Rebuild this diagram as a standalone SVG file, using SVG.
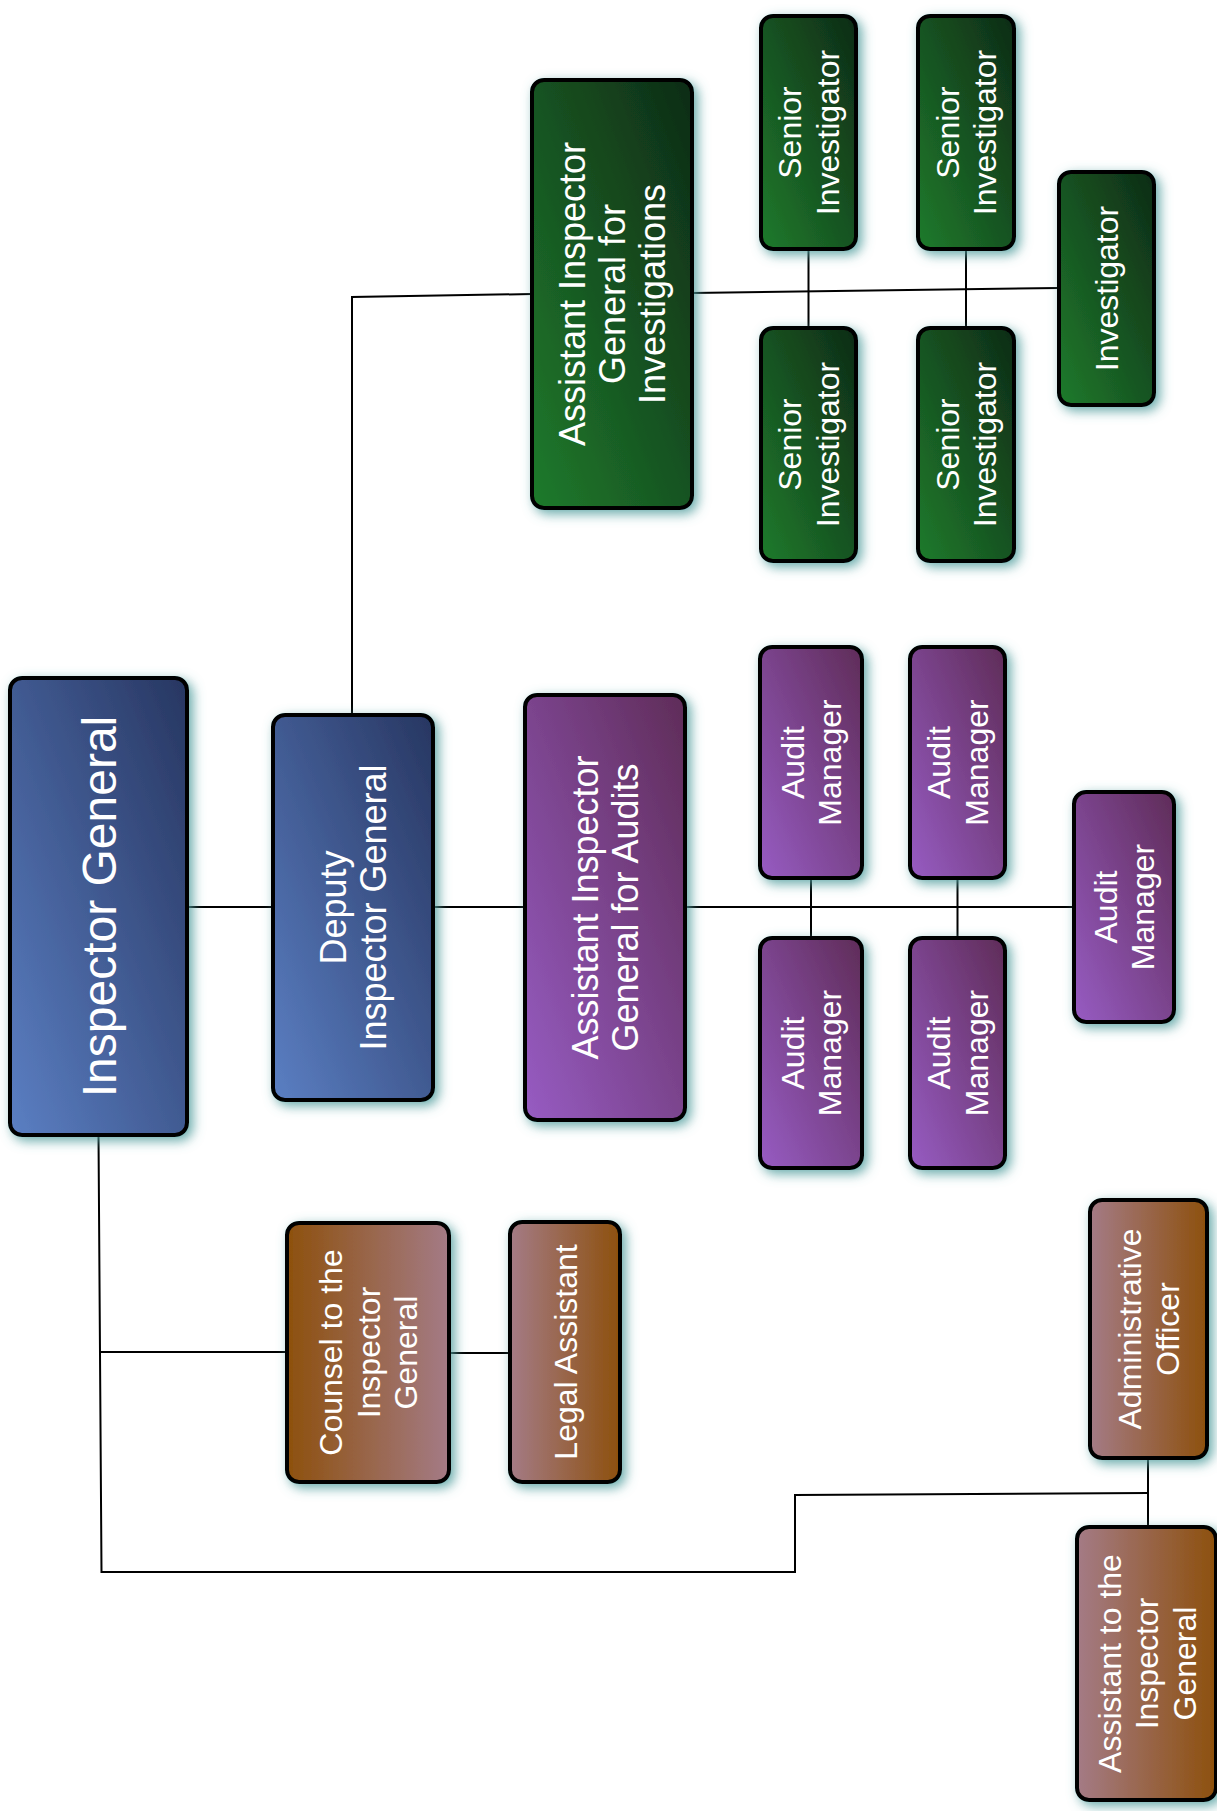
<svg xmlns="http://www.w3.org/2000/svg" width="1217" height="1811" viewBox="0 0 1217 1811">
<style>
.box{stroke:#000;stroke-width:4;filter:url(#glow)}
.blue{fill:url(#gBlue)}
.green{fill:url(#gGreen)}
.purple{fill:url(#gPurple)}
.brownR{fill:url(#gBrownR)}
.brownL{fill:url(#gBrownL)}
text{font-family:"Liberation Sans",Arial,Helvetica,sans-serif;fill:#fff;text-anchor:middle}
.f48{font-size:48px}
.f36{font-size:36px}
.f32{font-size:32px}
.conn{fill:none;stroke:#000;stroke-width:2}
</style>
<defs>
<linearGradient id="gBlue" x1="0" y1="1" x2="1" y2="0"><stop offset="0" stop-color="#5b7fc3"/><stop offset="1" stop-color="#273661"/></linearGradient>
<linearGradient id="gGreen" x1="0" y1="1" x2="1" y2="0"><stop offset="0" stop-color="#1f7b2c"/><stop offset="1" stop-color="#0e2b16"/></linearGradient>
<linearGradient id="gPurple" x1="0" y1="1" x2="1" y2="0"><stop offset="0" stop-color="#975cc3"/><stop offset="1" stop-color="#5f2c58"/></linearGradient>
<linearGradient id="gBrownR" x1="0" y1="0" x2="1" y2="0"><stop offset="0" stop-color="#8d500d"/><stop offset="1" stop-color="#a47b86"/></linearGradient>
<linearGradient id="gBrownL" x1="0" y1="0" x2="1" y2="0"><stop offset="0" stop-color="#a47b86"/><stop offset="1" stop-color="#8d500d"/></linearGradient>
<filter id="glow" x="-30%" y="-30%" width="160%" height="160%">
<feGaussianBlur in="SourceAlpha" stdDeviation="6" result="b"/>
<feOffset in="b" dx="4" dy="4" result="o"/>
<feFlood flood-color="#4e9c9c" flood-opacity="0.85"/>
<feComposite in2="o" operator="in" result="s"/>
<feMerge><feMergeNode in="s"/><feMergeNode in="SourceGraphic"/></feMerge>
</filter>
</defs>
<rect width="1217" height="1811" fill="#fff"/>
<g id="connectors">
<line class="conn" x1="187" y1="907" x2="273" y2="907"/>
<line class="conn" x1="433" y1="907" x2="525" y2="907"/>
<line class="conn" x1="685" y1="907" x2="1074" y2="907"/>
<line class="conn" x1="811" y1="878" x2="811" y2="938"/>
<line class="conn" x1="957.5" y1="878" x2="957.5" y2="938"/>
<polyline class="conn" points="352,715 352,297 532,294"/>
<line class="conn" x1="692" y1="293" x2="1059" y2="288"/>
<line class="conn" x1="808.5" y1="249" x2="808.5" y2="328"/>
<line class="conn" x1="966" y1="249" x2="966" y2="328"/>
<polyline class="conn" points="98.5,1135 101.5,1572 795,1572 795,1495 1148,1493"/>
<line class="conn" x1="99.5" y1="1352" x2="287" y2="1352"/>
<line class="conn" x1="449" y1="1353" x2="510" y2="1353"/>
<line class="conn" x1="1148" y1="1458" x2="1148" y2="1527"/>
</g>
<g id="inspector-general">
<rect class="box blue" x="10" y="678" width="177" height="457" rx="12"/>
<text class="f48" transform="translate(98.5 906.5) rotate(-90)"><tspan x="0" y="17">Inspector General</tspan></text>
</g>
<g id="deputy-ig">
<rect class="box blue" x="273" y="715" width="160" height="385" rx="12"/>
<text class="f36" transform="translate(353 907.5) rotate(-90)"><tspan x="0" y="-7">Deputy</tspan><tspan x="0" y="33">Inspector General</tspan></text>
</g>
<g id="aig-audits">
<rect class="box purple" x="525" y="695" width="160" height="425" rx="12"/>
<text class="f36" transform="translate(605 907.5) rotate(-90)"><tspan x="0" y="-7">Assistant Inspector</tspan><tspan x="0" y="33">General for Audits</tspan></text>
</g>
<g id="aig-investigations">
<rect class="box green" x="532" y="80" width="160" height="428" rx="12"/>
<text class="f36" transform="translate(612 294) rotate(-90)"><tspan x="0" y="-27">Assistant Inspector</tspan><tspan x="0" y="13">General for</tspan><tspan x="0" y="53">Investigations</tspan></text>
</g>
<g id="senior-inv-1">
<rect class="box green" x="761" y="16" width="95" height="233" rx="12"/>
<text class="f32" transform="translate(808.5 132.5) rotate(-90)"><tspan x="0" y="-7.25">Senior</tspan><tspan x="0" y="30.25">Investigator</tspan></text>
</g>
<g id="senior-inv-2">
<rect class="box green" x="918" y="16" width="96" height="233" rx="12"/>
<text class="f32" transform="translate(966 132.5) rotate(-90)"><tspan x="0" y="-7.25">Senior</tspan><tspan x="0" y="30.25">Investigator</tspan></text>
</g>
<g id="senior-inv-3">
<rect class="box green" x="761" y="328" width="95" height="233" rx="12"/>
<text class="f32" transform="translate(808.5 444.5) rotate(-90)"><tspan x="0" y="-7.25">Senior</tspan><tspan x="0" y="30.25">Investigator</tspan></text>
</g>
<g id="senior-inv-4">
<rect class="box green" x="918" y="328" width="96" height="233" rx="12"/>
<text class="f32" transform="translate(966 444.5) rotate(-90)"><tspan x="0" y="-7.25">Senior</tspan><tspan x="0" y="30.25">Investigator</tspan></text>
</g>
<g id="investigator">
<rect class="box green" x="1059" y="172" width="95" height="233" rx="12"/>
<text class="f32" transform="translate(1106.5 288.5) rotate(-90)"><tspan x="0" y="11.5">Investigator</tspan></text>
</g>
<g id="audit-manager-1">
<rect class="box purple" x="760" y="647" width="102" height="231" rx="12"/>
<text class="f32" transform="translate(811 762.5) rotate(-90)"><tspan x="0" y="-7.25">Audit</tspan><tspan x="0" y="30.25">Manager</tspan></text>
</g>
<g id="audit-manager-2">
<rect class="box purple" x="910" y="647" width="95" height="231" rx="12"/>
<text class="f32" transform="translate(957.5 762.5) rotate(-90)"><tspan x="0" y="-7.25">Audit</tspan><tspan x="0" y="30.25">Manager</tspan></text>
</g>
<g id="audit-manager-3">
<rect class="box purple" x="760" y="938" width="102" height="230" rx="12"/>
<text class="f32" transform="translate(811 1053) rotate(-90)"><tspan x="0" y="-7.25">Audit</tspan><tspan x="0" y="30.25">Manager</tspan></text>
</g>
<g id="audit-manager-4">
<rect class="box purple" x="910" y="938" width="95" height="230" rx="12"/>
<text class="f32" transform="translate(957.5 1053) rotate(-90)"><tspan x="0" y="-7.25">Audit</tspan><tspan x="0" y="30.25">Manager</tspan></text>
</g>
<g id="audit-manager-5">
<rect class="box purple" x="1074" y="792" width="100" height="230" rx="12"/>
<text class="f32" transform="translate(1124 907) rotate(-90)"><tspan x="0" y="-7.25">Audit</tspan><tspan x="0" y="30.25">Manager</tspan></text>
</g>
<g id="counsel">
<rect class="box brownR" x="287" y="1223" width="162" height="259" rx="12"/>
<text class="f32" transform="translate(368 1352.5) rotate(-90)"><tspan x="0" y="-26">Counsel to the</tspan><tspan x="0" y="11.5">Inspector</tspan><tspan x="0" y="49">General</tspan></text>
</g>
<g id="legal-assistant">
<rect class="box brownL" x="510" y="1222" width="110" height="260" rx="12"/>
<text class="f32" transform="translate(565 1352) rotate(-90)"><tspan x="0" y="11.5">Legal Assistant</tspan></text>
</g>
<g id="administrative-officer">
<rect class="box brownL" x="1090" y="1200" width="117" height="258" rx="12"/>
<text class="f32" transform="translate(1148.5 1329) rotate(-90)"><tspan x="0" y="-7.25">Administrative</tspan><tspan x="0" y="30.25">Officer</tspan></text>
</g>
<g id="assistant-to-ig">
<rect class="box brownL" x="1077" y="1527" width="139" height="273" rx="12"/>
<text class="f32" transform="translate(1146.5 1663.5) rotate(-90)"><tspan x="0" y="-26">Assistant to the</tspan><tspan x="0" y="11.5">Inspector</tspan><tspan x="0" y="49">General</tspan></text>
</g>
</svg>
